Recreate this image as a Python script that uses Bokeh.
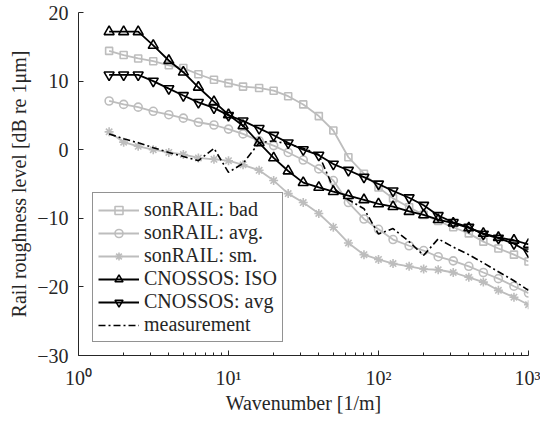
from bokeh.plotting import figure
from bokeh.models import FixedTicker, Legend, LegendItem, CustomJSTickFormatter
from bokeh.embed import file_html
from bokeh.resources import INLINE

# third-octave wavenumbers [1/m]
wavenumber = [1.6, 2, 2.5, 3.15, 4, 5, 6.3, 8, 10, 12.5, 16, 20, 25, 31.5, 40, 50, 63, 80,
              100, 125, 160, 200, 250, 315, 400, 500, 630, 800, 1000]

sonrail_bad = [14.4, 13.8, 13.3, 12.9, 12.3, 11.9, 11.0, 10.2, 9.7, 9.2, 9.0, 8.6, 7.8, 6.6,
               4.9, 2.8, -1.1, -3.5, -5.5, -7.1, -8.4, -9.5, -10.4, -11.3, -12.2, -13.4,
               -14.4, -15.3, -16.3]
sonrail_avg = [7.1, 6.6, 6.2, 5.6, 5.1, 4.6, 4.0, 3.6, 3.0, 2.3, 1.3, 0.6, -0.4, -1.5, -2.8,
               -4.5, -7.7, -10.1, -11.6, -13.1, -14.0, -14.7, -15.6, -16.2, -17.0, -17.9,
               -18.8, -19.9, -20.9]
sonrail_sm = [2.6, 1.1, 0.5, 0.0, -0.4, -0.7, -1.2, -1.4, -1.6, -2.2, -3.0, -4.5, -6.4, -7.7,
              -9.3, -11.3, -13.6, -15.3, -16.0, -16.6, -17.0, -17.4, -17.5, -17.9, -18.6,
              -19.3, -20.5, -21.5, -22.6]
cnossos_iso = [17.2, 17.2, 17.2, 15.2, 13.0, 11.3, 9.1, 7.0, 5.1, 3.5, 1.0, -1.2, -3.1, -4.8,
               -5.5, -6.1, -6.7, -7.3, -7.9, -8.3, -9.0, -9.5, -10.2, -10.7, -11.4, -12.2,
               -12.8, -13.2, -13.8]
cnossos_avg = [10.9, 10.9, 10.9, 10.0, 8.9, 7.9, 6.9, 6.1, 5.0, 4.2, 3.1, 2.1, 1.0, 0.0, -0.8,
               -2.1, -3.0, -4.0, -5.0, -6.0, -7.0, -8.1, -9.6, -10.6, -11.3, -12.3, -12.9,
               -13.7, -14.9]
measurement = [2.3, 1.6, 1.0, 0.3, -0.4, -1.0, -1.6, 0.2, -3.3, -2.0, 1.0, 1.3, 0.8, 0.2, -0.7,
               -5.6, -7.3, -8.6, -12.3, -11.5, -13.4, -15.4, -13.0, -14.2, -15.3, -16.5,
               -17.8, -19.1, -20.5]

labels = ["sonRAIL: bad", "sonRAIL: avg.", "sonRAIL: sm.", "CNOSSOS: ISO", "CNOSSOS: avg",
          "measurement"]

FONT = "Liberation Serif"
FS = "20px"
TXT = "#262626"
GRAY = "#bdbdbd"

p = figure(width=540, height=416, x_axis_type="log", x_range=(1, 1000), y_range=(-30, 20),
           output_backend="svg", toolbar_location=None,
           min_border_left=78, min_border_right=12, min_border_top=12, min_border_bottom=61)
p.outline_line_color = None
p.grid.visible = False
p.background_fill_color = "white"

items = []
series = [
    (sonrail_bad, GRAY, "square", 7),
    (sonrail_avg, GRAY, "circle", 8),
    (sonrail_sm, GRAY, "asterisk", 9),
    (cnossos_iso, "black", "triangle", 10),
    (cnossos_avg, "black", "inverted_triangle", 10),
]
for (ys, col, mk, sz), lab in zip(series, labels):
    l = p.line(wavenumber, ys, line_color=col, line_width=1.8)
    s = p.scatter(wavenumber, ys, marker=mk, size=sz, line_color=col, fill_color=None,
                  line_width=1.6)
    items.append(LegendItem(label=lab, renderers=[l, s]))

m = p.line(wavenumber, measurement, line_color="black", line_width=1.6, line_dash="7 3 2 3")
items.append(LegendItem(label=labels[5], renderers=[m]))

legend = Legend(items=items, location=(14, 13))
legend.label_text_font = FONT
legend.label_text_font_size = FS
legend.label_text_color = TXT
legend.label_standoff = 5
legend.glyph_width = 41
legend.glyph_height = 20
legend.label_height = 20
legend.spacing = 0
legend.padding = 5
legend.margin = 0
legend.border_line_color = "#262626"
legend.border_line_width = 1
legend.background_fill_alpha = 1.0
p.add_layout(legend)

# axes
p.xaxis.ticker = FixedTicker(ticks=[1, 10, 100, 1000],
                             minor_ticks=[m_ * 10 ** e for e in range(3) for m_ in range(2, 10)])
p.xaxis.formatter = CustomJSTickFormatter(code="""
const e = Math.round(Math.log10(tick));
const sup = ['\u2070','\u00b9','\u00b2','\u00b3'];
return '10' + sup[e];
""")
p.yaxis.ticker = FixedTicker(ticks=[-30, -20, -10, 0, 10, 20], minor_ticks=[])

for ax in (p.xaxis[0], p.yaxis[0]):
    ax.major_label_text_font = FONT
    ax.major_label_text_font_size = FS
    ax.major_label_text_color = TXT
    ax.axis_label_text_font = FONT
    ax.axis_label_text_font_size = FS
    ax.axis_label_text_font_style = "normal"
    ax.axis_label_text_color = TXT
    ax.axis_line_color = TXT
    ax.major_tick_line_color = TXT
    ax.minor_tick_line_color = TXT
    ax.major_tick_in = 5
    ax.major_tick_out = 0
    ax.minor_tick_in = 3
    ax.minor_tick_out = 0

p.xaxis.axis_label = "Wavenumber [1/m]"
p.yaxis.axis_label = "Rail roughness level [dB re 1\u03bcm]"
p.xaxis.major_label_standoff = 11
p.xaxis.axis_label_standoff = 0
p.yaxis.major_label_standoff = 10
p.yaxis.axis_label_standoff = 4

open("out.html", "w").write(file_html(p, INLINE))
